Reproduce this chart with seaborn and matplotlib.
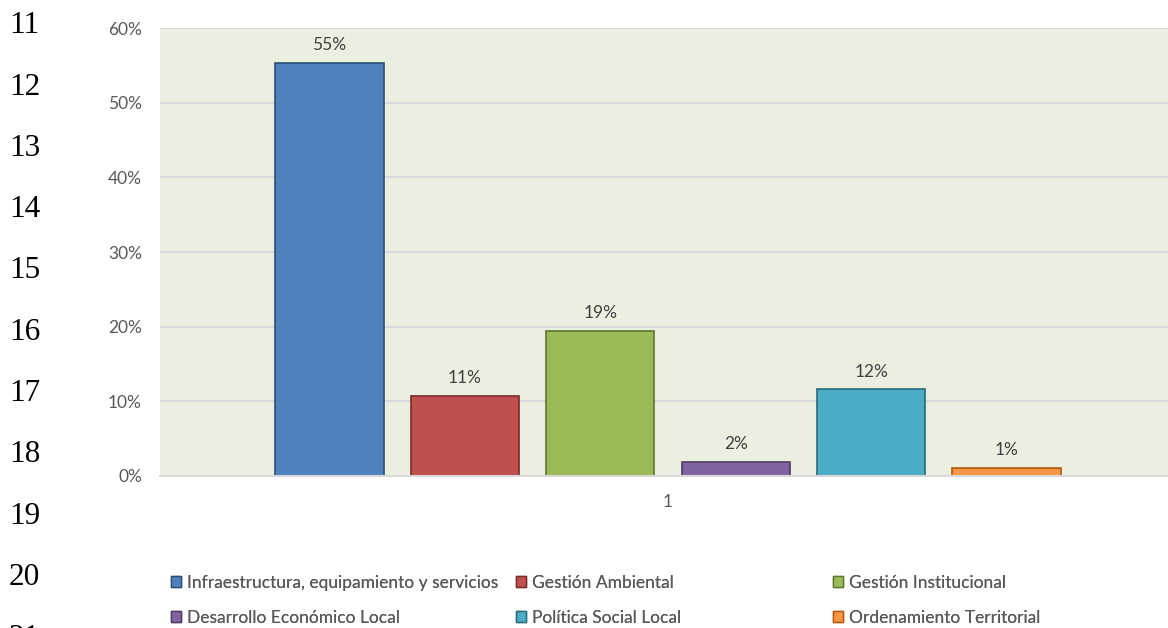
import matplotlib
matplotlib.use("Agg")
import matplotlib.pyplot as plt
from matplotlib.patches import Patch
import seaborn as sns
import pandas as pd

categories = [
    "Infraestructura, equipamiento y servicios",
    "Gestión Ambiental",
    "Gestión Institucional",
    "Desarrollo Económico Local",
    "Política Social Local",
    "Ordenamiento Territorial",
]
values = [55.3, 10.7, 19.4, 1.9, 11.6, 1.1]
value_labels = ["55%", "11%", "19%", "2%", "12%", "1%"]
x_group = ["1"] * 6
y_ticks = [0, 10, 20, 30, 40, 50, 60]
line_numbers = ["11", "12", "13", "14", "15", "16", "17", "18", "19", "20", "21"]

colors = ["#4F81BD", "#C0504D", "#9BBB59", "#8064A2", "#4BACC6", "#F79646"]
edges = ["#2C4D75", "#772C2A", "#5F7530", "#4D3B62", "#276A7C", "#B65708"]

sns.set_theme(style="white")
plt.rcParams["font.family"] = ["Lato", "DejaVu Sans"]

fig = plt.figure(figsize=(11.68, 6.28), dpi=100)
W, H = 1168, 628
ax = fig.add_axes([160 / W, 1 - 476 / H, 1016 / W, 448 / H])
ax.set_facecolor("#EBEFDF")

df = pd.DataFrame({"grp": x_group, "val": values, "cat": categories})
sns.barplot(data=df, x="grp", y="val", hue="cat", hue_order=categories,
            palette=colors, width=0.8, gap=0.2, dodge=True, legend=False,
            ax=ax, saturation=1)

for cont, ec, lab in zip(ax.containers, edges, value_labels):
    for p in cont.patches:
        p.set_edgecolor(ec)
        p.set_linewidth(1.2)
    ax.bar_label(cont, labels=[lab], padding=7, color="#404040", fontsize=12.5)

ax.set_xlim(-0.5, 0.5)
ax.set_ylim(0, 60)
ax.set_yticks(y_ticks)
ax.set_yticklabels([f"{t}%" for t in y_ticks])
ax.grid(axis="y", color="#D9D9D9", linewidth=1.5)
ax.set_axisbelow(True)
for s in ["top", "right", "left"]:
    ax.spines[s].set_visible(False)
ax.spines["bottom"].set_color("#D9D9D9")
ax.spines["bottom"].set_linewidth(1.5)
ax.tick_params(axis="y", length=0, pad=13, labelsize=12.5, labelcolor="#595959")
ax.tick_params(axis="x", length=0, pad=13, labelsize=12.5, labelcolor="#595959")
ax.set_xlabel("")
ax.set_ylabel("")

# Legend: three columns placed separately (row-wise order)
handles = [Patch(facecolor=c, edgecolor=e, linewidth=1) for c, e in zip(colors, edges)]
col_x = [171, 516, 833]
for i, cx in enumerate(col_x):
    idx = [i, i + 3]
    leg = fig.legend([handles[j] for j in idx], [categories[j] for j in idx],
                     loc="upper left", bbox_to_anchor=(cx / W, 1 - 575 / H),
                     frameon=False, fontsize=12.5, labelcolor="#595959",
                     handlelength=0.6, handleheight=0.6, handletextpad=0.35,
                     labelspacing=1.08, borderpad=0, borderaxespad=0)
    fig.add_artist(leg)

# Document line numbers
for k, t in enumerate(line_numbers):
    fig.text(9 / W, 1 - (33.3 + 61.3 * k) / H, t, ha="left", va="baseline",
             fontsize=22.5, family=["Liberation Serif", "DejaVu Serif"], color="black")

fig.savefig("out.png", dpi=100)
